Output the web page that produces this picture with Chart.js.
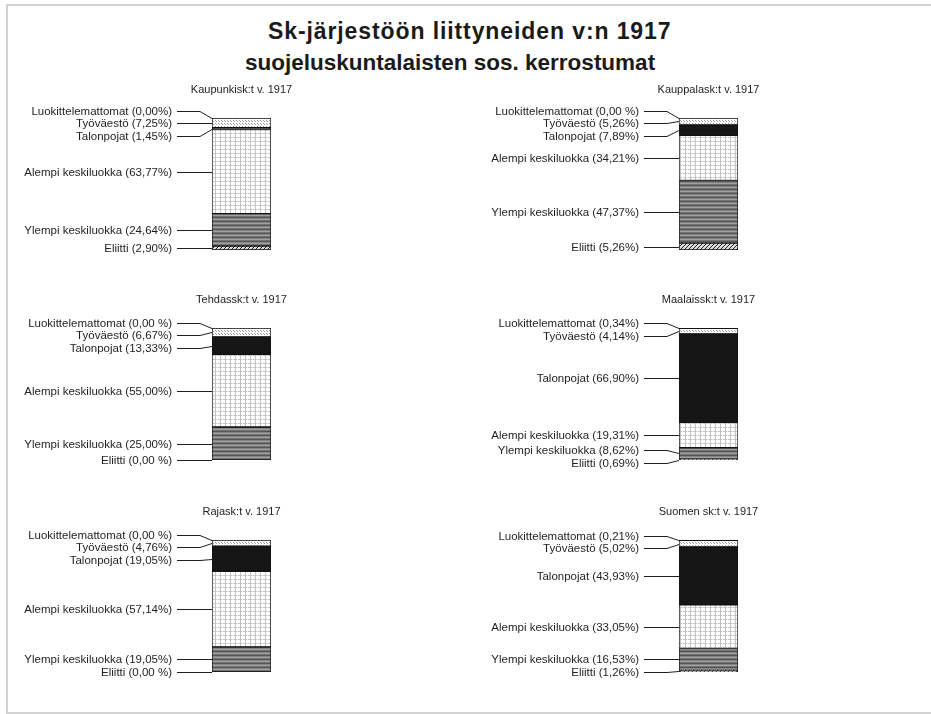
<!DOCTYPE html>
<html>
<head>
<meta charset="utf-8">
<script src="https://cdn.jsdelivr.net/npm/chart.js@4.4.1/dist/chart.umd.min.js"></script>
<style>
  body { margin: 0; background: #fff; width: 931px; height: 714px; position: relative; overflow: hidden;
         font-family: "Liberation Sans", Arial, sans-serif; }
  #frame { position: absolute; left: 6px; top: 4px; width: 940px; height: 706px;
           border-left: 2px solid #d2d2d2; border-top: 2px solid #d2d2d2; border-bottom: 2px solid #d2d2d2; }
  .title { position: absolute; font-weight: bold; font-size: 23px; line-height: 1; color: #1a1a1a;
           white-space: nowrap; }
  canvas { position: absolute; }
</style>
</head>
<body>
<div id="frame"></div>
<div class="title" style="left:268px; top:20px; letter-spacing:0.9px;">Sk-järjestöön liittyneiden v:n 1917</div>
<div class="title" style="left:245px; top:52px; font-size:22.5px;">suojeluskuntalaisten sos. kerrostumat</div>
<canvas id="c0"></canvas><canvas id="c1"></canvas>
<canvas id="c2"></canvas><canvas id="c3"></canvas>
<canvas id="c4"></canvas><canvas id="c5"></canvas>
<script>
// categories listed top of bar -> bottom of bar
const categories = ['Luokittelemattomat', 'Työväestö', 'Talonpojat', 'Alempi keskiluokka', 'Ylempi keskiluokka', 'Eliitti'];
const panelTitles = ['Kaupunkisk:t v. 1917', 'Kauppalask:t v. 1917', 'Tehdassk:t v. 1917',
                     'Maalaissk:t v. 1917', 'Rajask:t v. 1917', 'Suomen sk:t v. 1917'];
const kaupunki = [0.00, 7.25, 1.45, 63.77, 24.64, 2.90];
const kauppala = [0.00, 5.26, 7.89, 34.21, 47.37, 5.26];
const tehdas   = [0.00, 6.67, 13.33, 55.00, 25.00, 0.00];
const maalais  = [0.34, 4.14, 66.90, 19.31, 8.62, 0.69];
const raja     = [0.00, 4.76, 19.05, 57.14, 19.05, 0.00];
const suomi    = [0.21, 5.02, 43.93, 33.05, 16.53, 1.26];
const zeroText = ['0,00%', '0,00 %', '0,00 %', '0,00 %', '0,00 %', '0,00 %'];
const panelValues = [kaupunki, kauppala, tehdas, maalais, raja, suomi];

// bar placement on the page: [left, top] per panel
const barSpots = [[212, 118], [679, 118], [212, 328], [679, 328], [212, 540], [679, 540]];
const BAR_W = 59, BAR_H = 132;

function pattern(w, h, draw) {
  const c = document.createElement('canvas');
  c.width = w; c.height = h;
  const g = c.getContext('2d');
  draw(g);
  return g.createPattern(c, 'repeat');
}

const fills = [
  pattern(4, 4, g => { g.fillStyle = '#fff'; g.fillRect(0, 0, 4, 4); g.fillStyle = '#bbb'; g.fillRect(0, 0, 1, 1); }),
  pattern(3, 3, g => { g.fillStyle = '#fff'; g.fillRect(0, 0, 3, 3); g.fillStyle = '#9a9a9a'; g.fillRect(0, 0, 1, 1); g.fillRect(2, 2, 1, 1); }),
  '#161616',
  pattern(5, 4, g => {
    g.fillStyle = '#fff'; g.fillRect(0, 0, 5, 4);
    g.fillStyle = '#c4c4c4'; g.fillRect(0, 0, 1, 4); g.fillRect(0, 0, 5, 1);
    g.fillStyle = '#eee'; g.fillRect(2, 0, 1, 1);
  }),
  pattern(4, 4, g => {
    const rows = ['#555', '#858585', '#a0a0a0', '#757575'];
    rows.forEach((r, i) => { g.fillStyle = r; g.fillRect(0, i, 4, 1); });
  }),
  pattern(4, 4, g => {
    g.fillStyle = '#dcdcdc'; g.fillRect(0, 0, 4, 4);
    g.fillStyle = '#1e1e1e';
    for (let i = 0; i < 4; i++) g.fillRect(i, 3 - i, 1, 1);
  })
];

function spread(t, gap) {
  const groups = t.map(y => ({ sum: y, n: 1 }));
  const start = g => g.sum / g.n - (g.n - 1) * gap / 2;
  let merged = true;
  while (merged) {
    merged = false;
    for (let i = 0; i < groups.length - 1; i++) {
      const a = groups[i], b = groups[i + 1];
      if (start(a) + a.n * gap > start(b)) {
        groups.splice(i, 2, { sum: a.sum + b.sum, n: a.n + b.n });
        merged = true;
        break;
      }
    }
  }
  const out = [];
  groups.forEach(g => { const s = start(g); for (let k = 0; k < g.n; k++) out.push(s + k * gap); });
  return out;
}

const sideLabels = {
  id: 'sideLabels',
  afterDatasetsDraw(chart, args, opts) {
    const { ctx, chartArea: a, scales: { y } } = chart;
    const vals = opts.values;
    let cum = 100;
    const targets = vals.map(v => { const mid = cum - v / 2; cum -= v; return y.getPixelForValue(mid); });
    const pos = spread(targets, 12.5);
    ctx.save();
    ctx.fillStyle = '#1e1e1e';
    ctx.strokeStyle = '#1e1e1e';
    ctx.lineWidth = 1;
    ctx.font = '11.5px "Liberation Sans", Arial, sans-serif';
    ctx.textAlign = 'right';
    ctx.textBaseline = 'middle';
    vals.forEach((v, i) => {
      const ly = Math.round(pos[i]) + 0.5;
      const pct = v === 0 ? opts.zero : v.toFixed(2).replace('.', ',') + '%';
      ctx.fillText(categories[i] + ' (' + pct + ')', a.left - 40, ly);
      ctx.beginPath();
      ctx.moveTo(a.left - 35, ly);
      ctx.lineTo(a.left - 12, ly);
      ctx.lineTo(a.left, Math.round(targets[i]) + 0.5);
      ctx.stroke();
    });
    ctx.font = '11px "Liberation Sans", Arial, sans-serif';
    ctx.textAlign = 'center';
    ctx.fillText(opts.title, (a.left + a.right) / 2, a.top - 28);
    ctx.restore();
  }
};

panelValues.forEach((vals, p) => {
  const cv = document.getElementById('c' + p);
  const right = p % 2 === 1;
  const cLeft = right ? 465 : 0, cWidth = right ? 466 : 465;
  const [bx, by] = barSpots[p];
  const cTop = by - 45, cHeight = BAR_H + 75;
  cv.width = cWidth; cv.height = cHeight;
  cv.style.left = cLeft + 'px'; cv.style.top = cTop + 'px';
  cv.style.width = cWidth + 'px'; cv.style.height = cHeight + 'px';

  // stacked bottom -> top
  const order = [5, 4, 3, 2, 1, 0];
  new Chart(cv, {
    type: 'bar',
    data: {
      labels: [panelTitles[p]],
      datasets: order.map(i => ({
        label: categories[i],
        data: [vals[i]],
        backgroundColor: fills[i],
        borderColor: '#111',
        borderWidth: 1,
        borderSkipped: false,
        barPercentage: 1,
        categoryPercentage: 1
      }))
    },
    options: {
      responsive: false,
      animation: false,
      layout: { padding: { left: bx - cLeft, right: cWidth - (bx - cLeft) - BAR_W, top: 45, bottom: 30 } },
      scales: {
        x: { stacked: true, display: false },
        y: { stacked: true, display: false, min: 0, max: 100 }
      },
      plugins: {
        legend: { display: false },
        tooltip: { enabled: false },
        sideLabels: { values: vals, title: panelTitles[p], zero: zeroText[p] }
      }
    },
    plugins: [sideLabels]
  });
});
</script>
</body>
</html>
